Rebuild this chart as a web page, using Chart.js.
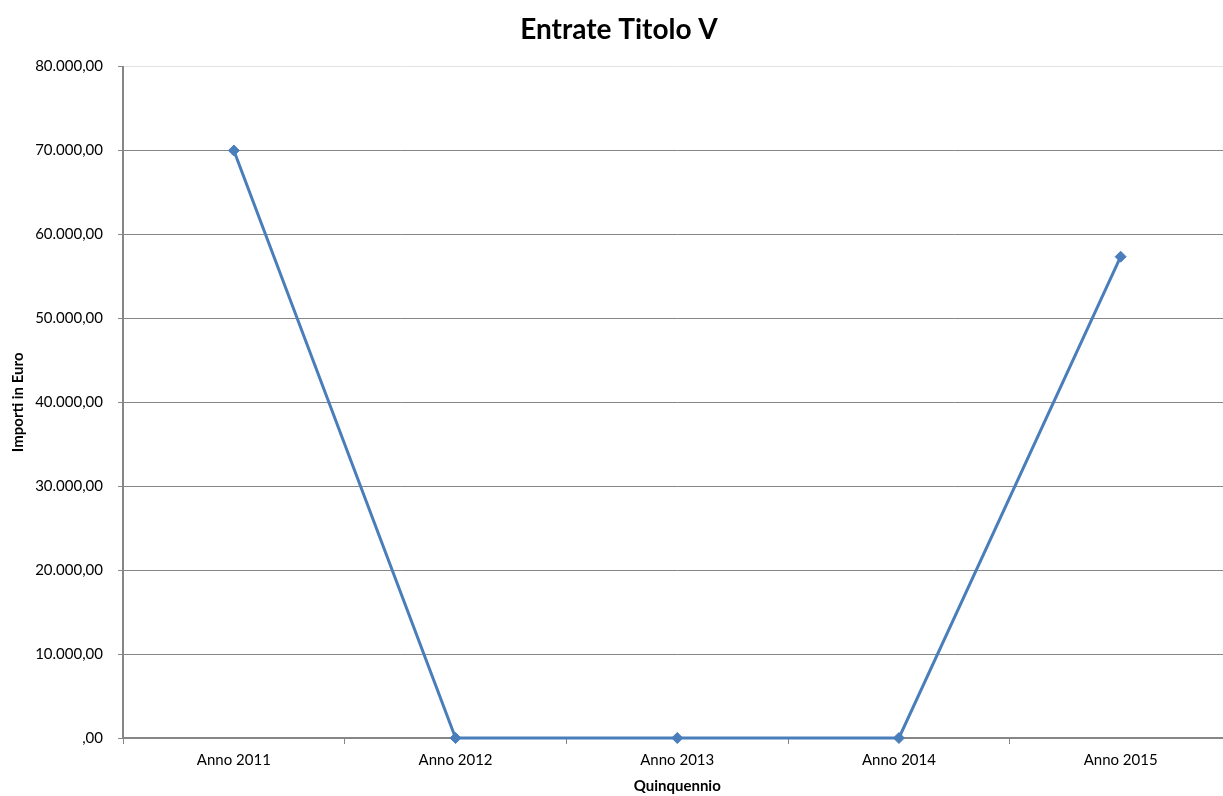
<!DOCTYPE html>
<html>
<head>
<meta charset="utf-8">
<script src="https://cdn.jsdelivr.net/npm/chart.js@4"></script>
<style>
  html, body { margin: 0; padding: 0; background: #ffffff; overflow: hidden; width: 1223px; height: 796px; }
  #wrap { width: 1238px; height: 796px; }
</style>
</head>
<body>
<div id="wrap"><canvas id="c" width="1238" height="796"></canvas></div>
<script>
const chartTitle = 'Entrate Titolo V';
const categories = ['Anno 2011', 'Anno 2012', 'Anno 2013', 'Anno 2014', 'Anno 2015'];
const values = [70000, 0, 0, 0, 57350];
const yMin = 0;
const yMax = 80000;
const yStep = 10000;
const yAxisTitle = 'Importi in Euro';
const xAxisTitle = 'Quinquennio';

function fmtIt(v) {
  if (v === 0) return ',00';
  const parts = Math.abs(v).toFixed(2).split('.');
  const intPart = parts[0].replace(/\B(?=(\d{3})+(?!\d))/g, '.');
  return (v < 0 ? '-' : '') + intPart + ',' + parts[1];
}

const FONT = 'Lato, Carlito, Calibri, "Open Sans", sans-serif';
const LINE = '#4A7EBB';
const GRID = '#868686';

new Chart(document.getElementById('c'), {
  type: 'line',
  data: {
    labels: categories,
    datasets: [{
      data: values,
      borderColor: LINE,
      backgroundColor: LINE,
      borderWidth: 3,
      pointStyle: 'rectRot',
      pointRadius: 5.5,
      pointHoverRadius: 5.5,
      pointBackgroundColor: LINE,
      pointBorderColor: LINE,
      pointBorderWidth: 1,
      tension: 0,
      fill: false,
      clip: false
    }]
  },
  options: {
    responsive: false,
    animation: false,
    events: [],
    layout: { padding: { left: 0, right: 0, top: 0, bottom: 0 } },
    plugins: {
      legend: { display: false },
      tooltip: { enabled: false },
      title: {
        display: true,
        text: chartTitle,
        color: '#000000',
        font: { family: FONT, size: 28, weight: 'bold' },
        padding: { top: 13, bottom: 20 }
      }
    },
    scales: {
      x: {
        type: 'category',
        offset: true,
        grid: {
          display: true,
          offset: true,
          drawOnChartArea: false,
          drawTicks: true,
          tickLength: 6,
          tickColor: GRID,
          tickWidth: 1
        },
        border: { display: true, color: GRID, width: 2 },
        ticks: {
          color: '#000000',
          font: { family: FONT, size: 15 },
          padding: 7,
          maxRotation: 0,
          autoSkip: false
        },
        title: {
          display: true,
          text: xAxisTitle,
          color: '#000000',
          font: { family: FONT, size: 15, weight: 'bold' },
          padding: { top: 0, bottom: 1 }
        },
        afterFit: (s) => { s.height = 58; }
      },
      y: {
        min: yMin,
        max: yMax,
        ticks: {
          stepSize: yStep,
          color: '#000000',
          font: { family: FONT, size: 15 },
          padding: 15,
          callback: (v) => fmtIt(v)
        },
        grid: {
          color: (ctx) => (ctx.tick && ctx.tick.value === yMax) ? '#e3e3e3' : GRID,
          lineWidth: 1,
          drawTicks: true,
          tickLength: 5,
          tickColor: GRID
        },
        border: { display: true, color: GRID, width: 2 },
        title: {
          display: true,
          text: yAxisTitle,
          color: '#000000',
          font: { family: FONT, size: 15, weight: 'bold' },
          padding: { top: 9, bottom: 0 }
        },
        afterFit: (s) => { s.width = 123; }
      }
    }
  }
});
</script>
</body>
</html>
